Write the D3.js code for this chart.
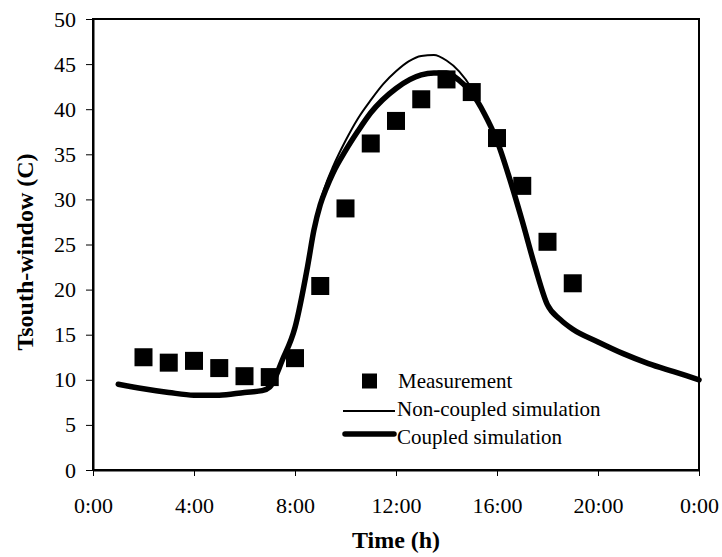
<!DOCTYPE html>
<html>
<head>
<meta charset="utf-8">
<script src="https://cdn.jsdelivr.net/npm/d3@7"></script>
<style>
  body { margin: 0; background: #fff; }
  svg text { font-family: "Liberation Serif", "Times New Roman", serif; fill: #000; }
</style>
</head>
<body>
<div id="chart"></div>
<script>
// Measurement (hour, temperature)
var measHours = [2, 3, 4, 5, 6, 7, 8, 9, 10, 11, 12, 13, 14, 15, 16, 17, 18, 19];
var measTemps = [12.5, 11.9, 12.1, 11.3, 10.4, 10.3, 12.4, 20.4, 29.0, 36.2, 38.7, 41.1, 43.3, 41.9, 36.8, 31.5, 25.3, 20.7];

// Coupled simulation
var coupledHours = [1, 2, 3, 4, 5, 6, 6.7, 7, 7.5, 8, 8.5, 8.75, 9, 9.25, 9.5, 10, 10.5, 11, 12, 13, 13.5, 14, 14.5, 15, 15.5, 16, 16.5, 17, 17.5, 18, 18.5, 19, 20, 21, 22, 23, 24];
var coupledTemps = [9.5, 9.0, 8.6, 8.3, 8.3, 8.6, 8.8, 9.2, 12.2, 15.8, 22.6, 26.6, 29.4, 31.3, 32.9, 35.4, 37.6, 39.6, 42.3, 43.8, 44.0, 44.0, 43.2, 41.8, 39.5, 36.5, 32.3, 27.6, 22.6, 18.3, 16.7, 15.6, 14.2, 12.9, 11.8, 10.9, 10.0];

// Non-coupled simulation
var noncoupledHours = [1, 2, 3, 4, 5, 6, 6.7, 7, 7.5, 8, 8.5, 8.75, 9, 9.25, 9.5, 10, 10.5, 11, 11.5, 12, 12.5, 13, 13.5, 14, 14.5, 15, 15.5, 16, 16.5, 17, 17.5, 18, 18.5, 19, 20, 21, 22, 23, 24];
var noncoupledTemps = [9.5, 9.0, 8.6, 8.3, 8.3, 8.6, 8.8, 9.2, 12.2, 15.8, 22.8, 26.9, 29.8, 31.9, 33.6, 36.5, 39.0, 41.0, 42.8, 44.2, 45.3, 45.9, 46.0, 45.4, 44.2, 42.3, 39.6, 36.5, 32.3, 27.6, 22.6, 18.3, 16.7, 15.6, 14.2, 12.9, 11.8, 10.9, 10.0];

var xTicks = [0, 4, 8, 12, 16, 20, 24];
var xTickLabels = ["0:00", "4:00", "8:00", "12:00", "16:00", "20:00", "0:00"];
var yTicks = [0, 5, 10, 15, 20, 25, 30, 35, 40, 45, 50];

var legendLabels = ["Measurement", "Non-coupled simulation", "Coupled simulation"];

var width = 722,
	height = 557;
var marginTop = 19,
	marginBottom = 87,
	marginLeft = 93,
	marginRight = 23;

var x = d3.scaleLinear().domain([0, 24]).range([marginLeft, width - marginRight]);
var y = d3.scaleLinear().domain([0, 50]).range([height - marginBottom, marginTop]);

var svg = d3
	.select("#chart")
	.append("svg")
	.attr("width", width)
	.attr("height", height);

// Plot frame
svg
	.append("rect")
	.attr("x", x(0))
	.attr("y", y(50))
	.attr("width", x(24) - x(0))
	.attr("height", y(0) - y(50))
	.attr("fill", "none")
	.attr("stroke", "#000")
	.attr("stroke-width", 2);

// x-axis
svg
	.append("g")
	.attr("transform", `translate(0,${y(0)})`)
	.call(
		d3
			.axisBottom(x)
			.tickValues(xTicks)
			.tickFormat((d, i) => xTickLabels[i])
			.tickSize(6)
			.tickSizeOuter(0)
			.tickPadding(21)
	)
	.call((g) => g.select(".domain").attr("stroke-width", 2))
	.call((g) => g.selectAll(".tick line").attr("stroke-width", 1))
	.call((g) => g.selectAll("text").attr("font-size", 22));

// y-axis
svg
	.append("g")
	.attr("transform", `translate(${x(0)},0)`)
	.call(d3.axisLeft(y).tickValues(yTicks).tickSize(7).tickSizeOuter(0).tickPadding(10))
	.call((g) => g.select(".domain").attr("stroke-width", 2))
	.call((g) => g.selectAll(".tick line").attr("stroke-width", 1))
	.call((g) => g.selectAll("text").attr("font-size", 22));

// Axis titles
svg
	.append("text")
	.attr("x", (x(0) + x(24)) / 2)
	.attr("y", 548)
	.attr("text-anchor", "middle")
	.attr("font-size", 24)
	.attr("font-weight", "bold")
	.text("Time (h)");

svg
	.append("text")
	.attr("transform", "translate(33,252) rotate(-90)")
	.attr("text-anchor", "middle")
	.attr("font-size", 24)
	.attr("font-weight", "bold")
	.text("Tsouth-window (C)");

var line = d3
	.line()
	.curve(d3.curveMonotoneX)
	.x((d) => x(d[0]))
	.y((d) => y(d[1]));

var noncoupled = noncoupledHours.map((h, i) => [h, noncoupledTemps[i]]);
var coupled = coupledHours.map((h, i) => [h, coupledTemps[i]]);
var meas = measHours.map((h, i) => [h, measTemps[i]]);

svg
	.append("path")
	.attr("fill", "none")
	.attr("stroke", "#000")
	.attr("stroke-width", 2)
	.attr("d", line(noncoupled));

svg
	.append("path")
	.attr("fill", "none")
	.attr("stroke", "#000")
	.attr("stroke-width", 5.5)
	.attr("stroke-linecap", "round")
	.attr("stroke-linejoin", "round")
	.attr("d", line(coupled));

// Measurement squares
var sq = 18;
svg
	.append("g")
	.selectAll("rect")
	.data(meas)
	.join("rect")
	.attr("x", (d) => x(d[0]) - sq / 2)
	.attr("y", (d) => y(d[1]) - sq / 2)
	.attr("width", sq)
	.attr("height", sq)
	.attr("fill", "#000");

// Legend
var legend = svg.append("g").attr("transform", "translate(343,381)");
legend
	.append("rect")
	.attr("x", 19)
	.attr("y", -7.5)
	.attr("width", 15)
	.attr("height", 15)
	.attr("fill", "#000");
legend
	.append("line")
	.attr("x1", 0)
	.attr("x2", 52)
	.attr("y1", 30)
	.attr("y2", 30)
	.attr("stroke", "#000")
	.attr("stroke-width", 2);
legend
	.append("line")
	.attr("x1", 2)
	.attr("x2", 51)
	.attr("y1", 53)
	.attr("y2", 53)
	.attr("stroke", "#000")
	.attr("stroke-width", 5.5)
	.attr("stroke-linecap", "round");
legend
	.selectAll("text.lbl")
	.data(legendLabels)
	.join("text")
	.attr("class", "lbl")
	.attr("x", (d, i) => (i == 0 ? 55 : 54))
	.attr("y", (d, i) => 6.5 + i * 28)
	.attr("font-size", 21)
	.text((d) => d);
</script>
</body>
</html>
